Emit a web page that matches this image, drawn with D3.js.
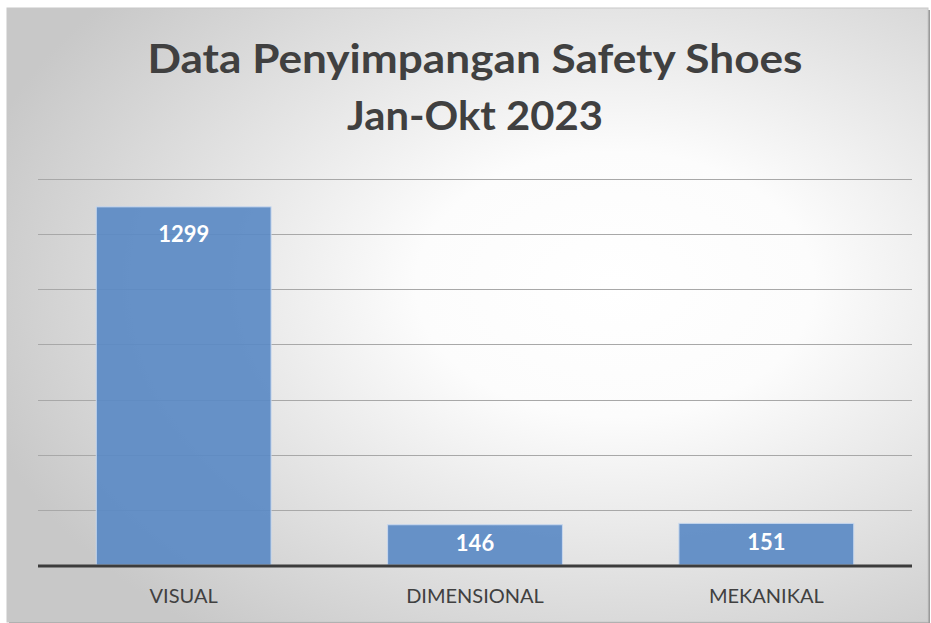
<!DOCTYPE html>
<html>
<head>
<meta charset="utf-8">
<script src="https://cdn.jsdelivr.net/npm/d3@7"></script>
<style>
  body { margin: 0; background: #fff; }
  svg { display: block; }
</style>
</head>
<body>
<svg width="931" height="623"></svg>
<script>
// --- Data ---
const categories = ["VISUAL", "DIMENSIONAL", "MEKANIKAL"];
const values = [1299, 146, 151];
const yTicks = [0, 200, 400, 600, 800, 1000, 1200, 1400];
const titleLines = ["Data Penyimpangan Safety Shoes", "Jan-Okt 2023"];

// --- Setup ---
const svg = d3.select("svg"),
      width = +svg.attr("width"),
      height = +svg.attr("height");

const frame = { x: 7, y: 8, w: 921, h: 614 };
const plot = { left: 38, right: 912, top: 179, bottom: 565 };

// --- Background gradient ---
const defs = svg.append("defs");
const bg = defs.append("radialGradient")
  .attr("id", "bg-grad")
  .attr("cx", "66%").attr("cy", "45%").attr("r", "72%")
  .attr("fx", "66%").attr("fy", "45%");
bg.append("stop").attr("offset", "0%").attr("stop-color", "#ffffff");
bg.append("stop").attr("offset", "30%").attr("stop-color", "#fcfcfc");
bg.append("stop").attr("offset", "100%").attr("stop-color", "#c8c8c8");

svg.append("rect")
  .attr("x", frame.x + 2).attr("y", frame.y + 2)
  .attr("width", frame.w).attr("height", frame.h)
  .attr("fill", "#9a9a9a");
svg.append("rect")
  .attr("x", frame.x).attr("y", frame.y)
  .attr("width", frame.w).attr("height", frame.h)
  .attr("fill", "url(#bg-grad)")
  .attr("stroke", "#c8c8c8")
  .attr("stroke-width", 1);

// --- Title ---
svg.append("text")
  .attr("x", 475).attr("y", 73)
  .attr("text-anchor", "middle")
  .attr("font-family", "Lato, sans-serif")
  .attr("font-weight", "bold")
  .attr("font-size", 40)
  .attr("fill", "#404040")
  .attr("textLength", 655)
  .attr("lengthAdjust", "spacingAndGlyphs")
  .text(titleLines[0]);
svg.append("text")
  .attr("x", 475).attr("y", 130)
  .attr("text-anchor", "middle")
  .attr("font-family", "Lato, sans-serif")
  .attr("font-weight", "bold")
  .attr("font-size", 40)
  .attr("fill", "#404040")
  .attr("textLength", 256)
  .attr("lengthAdjust", "spacingAndGlyphs")
  .text(titleLines[1]);

// --- Scales ---
const x = d3.scaleBand()
  .domain(categories)
  .range([plot.left, plot.right])
  .paddingInner(0.4)
  .paddingOuter(0.2);

const y = d3.scaleLinear()
  .domain([0, 1400])
  .range([plot.bottom, plot.top]);

// --- Gridlines ---
svg.append("g")
  .selectAll("line")
  .data(yTicks.filter(d => d > 0))
  .enter().append("line")
    .attr("x1", plot.left).attr("x2", plot.right)
    .attr("y1", d => Math.round(y(d)) + 0.5)
    .attr("y2", d => Math.round(y(d)) + 0.5)
    .attr("stroke", "#a8a8a8")
    .attr("stroke-width", 1);

// --- Bars ---
svg.append("g")
  .selectAll("rect")
  .data(values)
  .enter().append("rect")
    .attr("x", (d, i) => x(categories[i]))
    .attr("y", d => y(d))
    .attr("width", x.bandwidth())
    .attr("height", d => y(0) - y(d))
    .attr("fill", "#5b8ac4")
    .attr("fill-opacity", 0.92)
    .attr("stroke", "#c8d8ee")
    .attr("stroke-width", 1);

// --- Axis line ---
svg.append("line")
  .attr("x1", plot.left).attr("x2", plot.right)
  .attr("y1", y(0) + 1).attr("y2", y(0) + 1)
  .attr("stroke", "#3c3c3c")
  .attr("stroke-width", 3);

// --- Data labels ---
svg.append("g")
  .selectAll("text")
  .data(values)
  .enter().append("text")
    .attr("x", (d, i) => x(categories[i]) + x.bandwidth() / 2)
    .attr("y", d => Math.min(y(d) + 35, (y(d) + y(0)) / 2 + 6))
    .attr("text-anchor", "middle")
    .attr("font-family", "Lato, sans-serif")
    .attr("font-weight", "bold")
    .attr("font-size", 22)
    .attr("fill", "#ffffff")
    .text(d => d);

// --- Category labels ---
svg.append("g")
  .selectAll("text")
  .data(categories)
  .enter().append("text")
    .attr("x", d => x(d) + x.bandwidth() / 2)
    .attr("y", 603)
    .attr("text-anchor", "middle")
    .attr("font-family", "Lato, sans-serif")
    .attr("font-size", 20)
    .attr("fill", "#404040")
    .text(d => d);
</script>
</body>
</html>
